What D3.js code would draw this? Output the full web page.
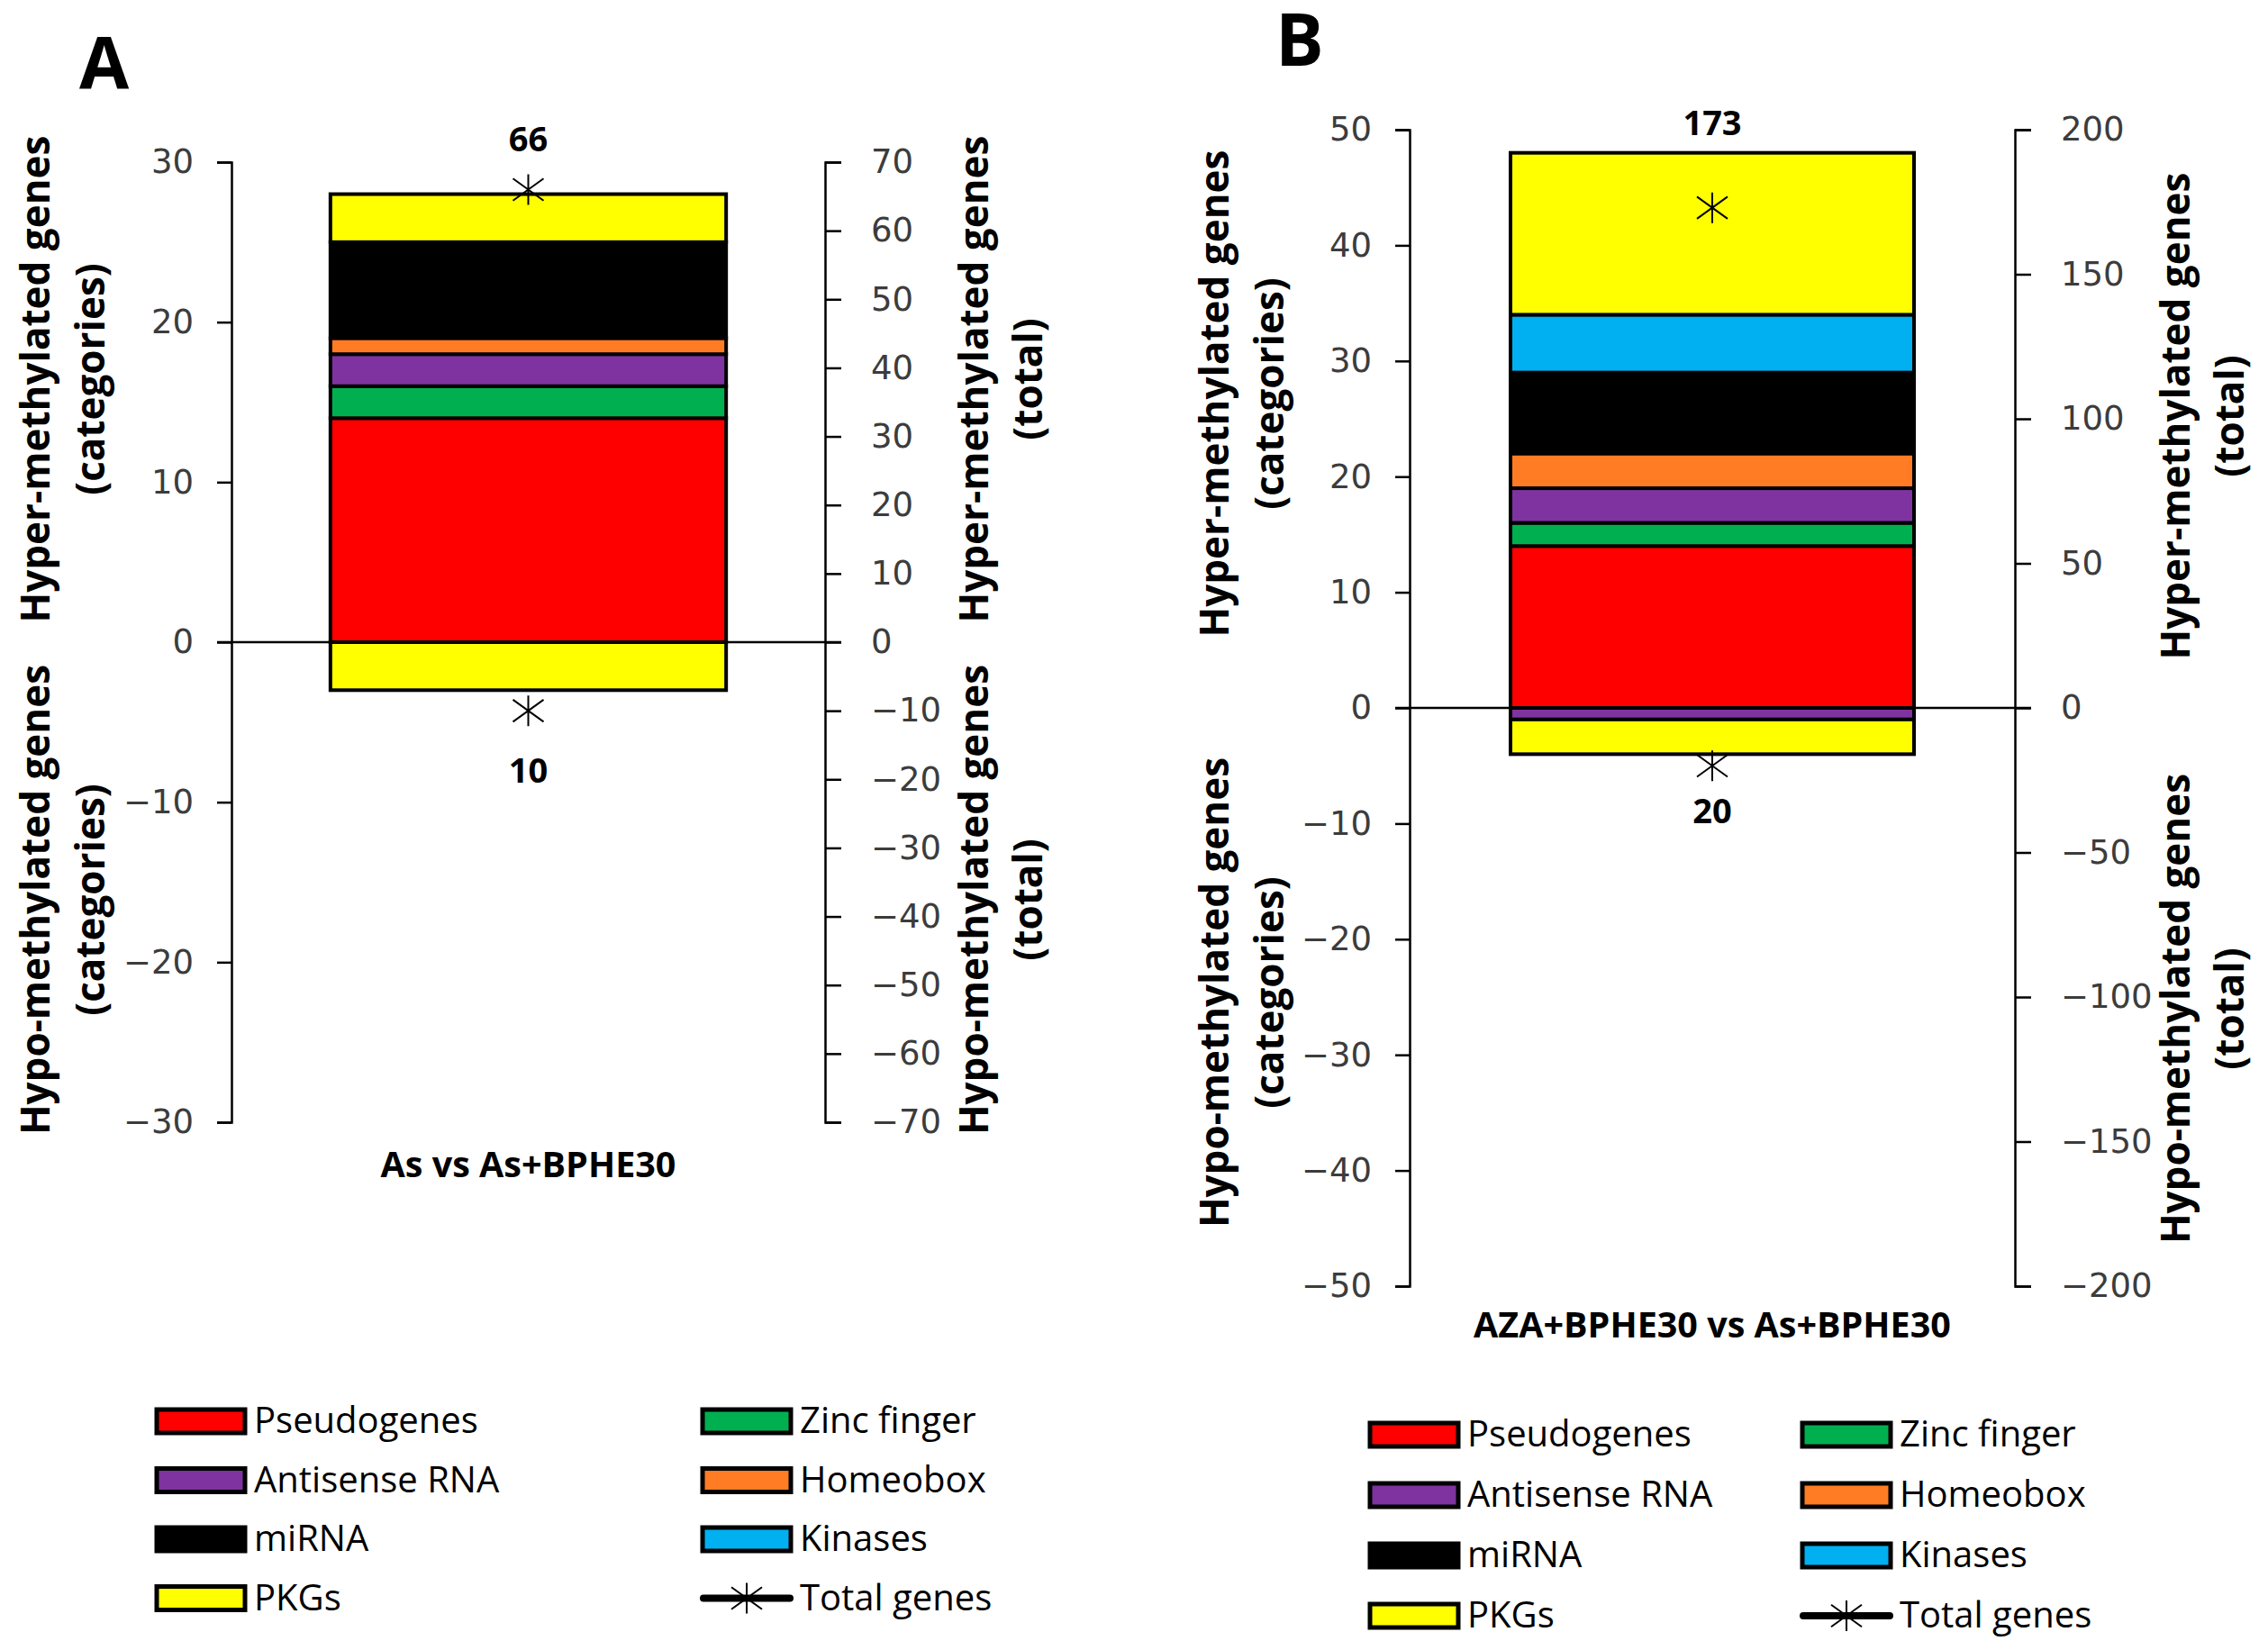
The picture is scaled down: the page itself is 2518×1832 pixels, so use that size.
<!DOCTYPE html>
<html>
<head>
<meta charset="utf-8">
<script src="https://cdn.jsdelivr.net/npm/d3@7"></script>
<style>
body{margin:0;background:#fff;}
svg{display:block;font-family:'Open Sans',sans-serif;}
</style>
</head>
<body>
<svg id="chart" width="2518" height="1832"></svg>
<script>
//Data (stack order, bottom to top)
const categories = ['Pseudogenes','Zinc finger','Antisense RNA','Homeobox','miRNA','Kinases','PKGs'];
const catColors  = ['#ff0000','#00b050','#7f33a0','#ff7c24','#000000','#00b0f0','#ffff00'];
const comparisons = ['As vs As+BPHE30','AZA+BPHE30 vs As+BPHE30'];
const hyperA = [14,2,2,1,6,0,3];
const hypoA  = [0,0,0,0,0,0,3];
const hyperB = [14,2,3,3,7,5,14];
const hypoB  = [0,0,1,0,0,0,3];
const totalHyper = [66,173];
const totalHypo  = [10,20];
const leftTicksA  = [-30,-20,-10,0,10,20,30];
const rightTicksA = [-70,-60,-50,-40,-30,-20,-10,0,10,20,30,40,50,60,70];
const leftTicksB  = [-50,-40,-30,-20,-10,0,10,20,30,40,50];
const rightTicksB = [-200,-150,-100,-50,0,50,100,150,200];
const legendCol1 = ['Pseudogenes','Antisense RNA','miRNA','PKGs'];
const legendCol2 = ['Zinc finger','Homeobox','Kinases','Total genes'];

//Layout
const panels = [
    {letter:'A', comp:comparisons[0], hyper:hyperA, hypo:hypoA, tHyper:totalHyper[0], tHypo:totalHypo[0],
     lTicks:leftTicksA, rTicks:rightTicksA, x0:257, x1:916, yTop:180, yBot:1246,
     letterX:88, letterY:99, titleL:[55,116], titleR:[1097,1157],
     hyperY:[421,421], hypoY:[999,999], upGap:57, downGap:65, xGap:33,
     leg:{x1:172, x2:778, y0:1578, dy:65.5}},
    {letter:'B', comp:comparisons[1], hyper:hyperB, hypo:hypoB, tHyper:totalHyper[1], tHypo:totalHypo[1],
     lTicks:leftTicksB, rTicks:rightTicksB, x0:1565, x1:2237, yTop:144, yBot:1428,
     letterX:1416, letterY:73, titleL:[1364,1425], titleR:[2431,2491],
     hyperY:[437,462], hypoY:[1102,1120], upGap:96, downGap:49, xGap:29,
     leg:{x1:1519, x2:1999, y0:1593, dy:67}}
];

const svg = d3.select('#chart');
const starPath = s => `M0,${-s}L0,${s}M${-s},${-s*0.72}L${s},${s*0.72}M${-s},${s*0.72}L${s},${-s*0.72}`;

function drawPanel(p){
    const g = svg.append('g').attr('class','panel');
    const lMax = d3.max(p.lTicks), rMax = d3.max(p.rTicks);

    const yLeft = d3.scaleLinear([-lMax,lMax],[p.yBot,p.yTop]);
    const yRight = d3.scaleLinear([-rMax,rMax],[p.yBot,p.yTop]);
    const xScale = d3.scaleBand([p.comp],[p.x0,p.x1]).padding(0.2);
    const xc = xScale(p.comp) + xScale.bandwidth()/2;

    //stack: hyper up, hypo down
    const rows = [p.hyper, p.hypo.map(v=>-v)].map(arr=>{
        const o = {comp:p.comp};
        categories.forEach((c,i)=>o[c]=arr[i]);
        return o;
    });
    const series = d3.stack().keys(categories).offset(d3.stackOffsetDiverging)(rows);

    //axes
    const lAxis = g.append('g').attr('transform',`translate(${p.x0},0)`)
        .call(d3.axisLeft(yLeft).tickValues(p.lTicks).tickSizeInner(16).tickSizeOuter(16).tickPadding(26));
    const rAxis = g.append('g').attr('transform',`translate(${p.x1},0)`)
        .call(d3.axisRight(yRight).tickValues(p.rTicks).tickSizeInner(18).tickSizeOuter(18).tickPadding(33));
    [lAxis,rAxis].forEach(a=>{
        a.selectAll('path,line').attr('stroke','#000').attr('stroke-width',2.5);
        a.selectAll('text').style('font-family','"DejaVu Sans",sans-serif')
            .style('font-size','37px').attr('fill','#3c3c3c');
    });

    //category label under the plot
    const xAxis = g.append('g').attr('transform',`translate(0,${p.yBot})`)
        .call(d3.axisBottom(xScale).tickSize(0).tickPadding(p.xGap));
    xAxis.select('.domain').remove();
    xAxis.selectAll('text').style('font-family','"Open Sans",sans-serif')
        .style('font-size','39.5px').style('font-weight','bold').attr('fill','#000');

    //zero line across both tick ends
    g.append('line')
        .attr('x1',p.x0-16).attr('x2',p.x1+18)
        .attr('y1',yLeft(0)).attr('y2',yLeft(0))
        .attr('stroke','#000').attr('stroke-width',2.5);

    //bars
    g.append('g').selectAll('g').data(series).join('g')
        .attr('fill',(d,i)=>catColors[i])
        .selectAll('rect').data(d=>d.filter(s=>s[1]!==s[0])).join('rect')
        .attr('x',d=>xScale(d.data.comp))
        .attr('width',xScale.bandwidth())
        .attr('y',d=>yLeft(Math.max(d[0],d[1])))
        .attr('height',d=>Math.abs(yLeft(d[0])-yLeft(d[1])))
        .attr('stroke','#000').attr('stroke-width',4);

    //total genes markers on right axis
    const totals = [{v:p.tHyper, sign:1},{v:-p.tHypo, sign:-1}];
    g.selectAll('.star').data(totals).join('path').attr('class','star')
        .attr('transform',d=>`translate(${xc},${yRight(d.v)})`)
        .attr('d',starPath(17)).attr('stroke','#000').attr('stroke-width',2).attr('fill','none');
    g.selectAll('.tot-label').data(totals).join('text').attr('class','tot-label')
        .attr('x',xc)
        .attr('y',d=>yRight(d.v) + (d.sign>0 ? -p.upGap : p.downGap))
        .attr('text-anchor','middle').attr('dominant-baseline','central')
        .style('font-size','38px').style('font-weight','bold')
        .text(d=>Math.abs(d.v));

    //axis titles
    const titles = [
        {x:p.titleL, y:p.hyperY[0], t:['Hyper-methylated genes','(categories)']},
        {x:p.titleL, y:p.hypoY[0], t:['Hypo-methylated genes','(categories)']},
        {x:p.titleR, y:p.hyperY[1], t:['Hyper-methylated genes','(total)']},
        {x:p.titleR, y:p.hypoY[1], t:['Hypo-methylated genes','(total)']}
    ];
    titles.forEach(tt=>{
        tt.t.forEach((line,i)=>{
            g.append('text')
                .attr('transform',`translate(${tt.x[i]},${tt.y}) rotate(-90)`)
                .attr('text-anchor','middle')
                .style('font-size','44px').style('font-weight','bold')
                .text(line);
        });
    });

    //panel letter
    g.append('text').attr('x',p.letterX).attr('y',p.letterY)
        .style('font-size','80px').style('font-weight','bold').text(p.letter);

    //legend
    const leg = g.append('g').attr('class','legend');
    const items = [];
    legendCol1.forEach((d,i)=>items.push({name:d, x:p.leg.x1, y:p.leg.y0+i*p.leg.dy}));
    legendCol2.forEach((d,i)=>items.push({name:d, x:p.leg.x2, y:p.leg.y0+i*p.leg.dy}));
    const it = leg.selectAll('g').data(items).join('g')
        .attr('transform',d=>`translate(${d.x},${d.y})`);
    it.filter(d=>d.name!=='Total genes').append('rect')
        .attr('x',2).attr('y',-13).attr('width',98).attr('height',26)
        .attr('fill',d=>catColors[categories.indexOf(d.name)])
        .attr('stroke','#000').attr('stroke-width',5);
    const tl = it.filter(d=>d.name==='Total genes');
    tl.append('line').attr('x1',3).attr('x2',99).attr('y1',0).attr('y2',0)
        .attr('stroke','#000').attr('stroke-width',8).attr('stroke-linecap','round');
    tl.append('path').attr('transform','translate(51,0)').attr('d',starPath(17))
        .attr('stroke','#000').attr('stroke-width',2).attr('fill','none');
    it.append('text').attr('x',110).attr('y',13)
        .style('font-size','40px').attr('fill','#000')
        .text(d=>d.name);
}

panels.forEach(drawPanel);
</script>
</body>
</html>
